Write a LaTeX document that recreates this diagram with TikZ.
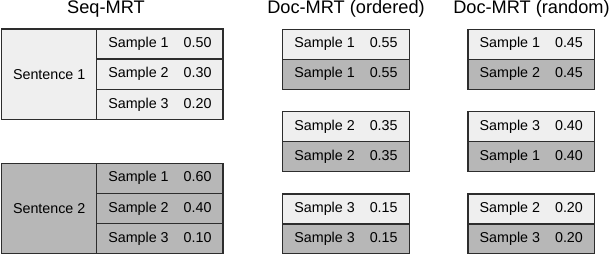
\documentclass[tikz,border=0pt]{standalone}
\usepackage{fontspec}
\setmainfont{Liberation Sans}
\definecolor{lightc}{RGB}{239,239,239}
\definecolor{darkc}{RGB}{183,183,183}
\definecolor{linec}{RGB}{45,45,45}
\tikzset{
  cellbase/.style={draw=linec, line width=1.3pt, rectangle, inner sep=0pt, outer sep=0pt,
    font=\fontsize{14.3}{16}\selectfont, text=black},
  samp/.style={cellbase, minimum width=126.4pt, minimum height=30pt},
  sent/.style={cellbase, minimum width=95pt, minimum height=90.5pt},
  lt/.style={fill=lightc},
  dk/.style={fill=darkc},
  ttl/.style={anchor=base, inner sep=0pt, font=\fontsize{18.2}{20}\selectfont}
}
\newcommand{\smp}[2]{Sample #1\hspace{15pt}#2}
\begin{document}
\begin{tikzpicture}[x=1pt,y=-1pt]
\useasboundingbox[fill=white] (0,0) rectangle (614,254);
% titles
\node[ttl] (t1) at (106,13.6) {Seq-MRT};
\node[ttl] (t2) at (346,13.6) {Doc-MRT (ordered)};
\node[ttl] (t3) at (531.5,13.6) {Doc-MRT (random)};
% Seq-MRT sentence 1
\node[sent,lt] (sen1) at (49.2,74.25) {Sentence 1};
\node[samp,lt] (a1) at (159.9,44.1) {\smp{1}{0.50}};
\node[samp,lt] (a2) at (159.9,74.25) {\smp{2}{0.30}};
\node[samp,lt] (a3) at (159.9,104.4) {\smp{3}{0.20}};
% Seq-MRT sentence 2
\node[sent,dk] (sen2) at (49.2,208.5) {Sentence 2};
\node[samp,dk] (b1) at (159.9,178.3) {\smp{1}{0.60}};
\node[samp,dk] (b2) at (159.9,208.5) {\smp{2}{0.40}};
\node[samp,dk] (b3) at (159.9,238.7) {\smp{3}{0.10}};
% Doc-MRT ordered
\node[samp,lt] (o1a) at (346,44.3) {\smp{1}{0.55}};
\node[samp,dk] (o1b) at (346,74.3) {\smp{1}{0.55}};
\node[samp,lt] (o2a) at (346,126.7) {\smp{2}{0.35}};
\node[samp,dk] (o2b) at (346,156.8) {\smp{2}{0.35}};
\node[samp,lt] (o3a) at (346,209) {\smp{3}{0.15}};
\node[samp,dk] (o3b) at (346,239) {\smp{3}{0.15}};
% Doc-MRT random
\node[samp,lt] (r1a) at (531.3,44.3) {\smp{1}{0.45}};
\node[samp,dk] (r1b) at (531.3,74.3) {\smp{2}{0.45}};
\node[samp,lt] (r2a) at (531.3,126.7) {\smp{3}{0.40}};
\node[samp,dk] (r2b) at (531.3,156.8) {\smp{1}{0.40}};
\node[samp,lt] (r3a) at (531.3,209) {\smp{2}{0.20}};
\node[samp,dk] (r3b) at (531.3,239) {\smp{3}{0.20}};
\end{tikzpicture}
\end{document}
